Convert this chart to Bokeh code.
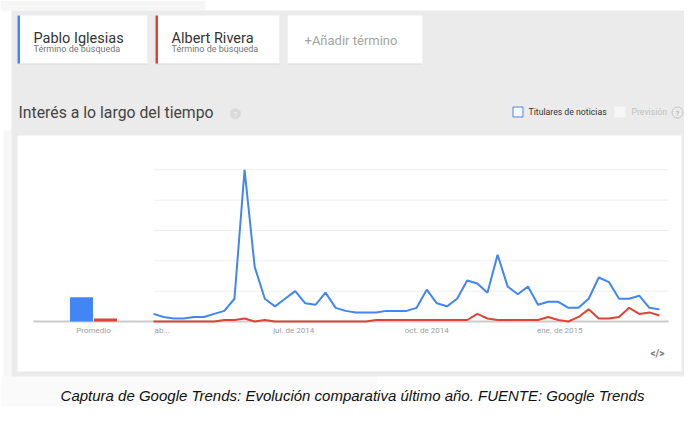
import numpy as np
import pandas as pd
from bokeh.plotting import figure
from bokeh.models import Range1d
from bokeh.core.properties import value
from bokeh.embed import file_html
from bokeh.resources import INLINE

# ---------------- data ----------------
weeks = pd.date_range("2014-03-26", periods=51, freq="7D")
pablo = [5, 3, 2, 2, 3, 3, 5, 7, 15, 100,
         36, 15, 10, 15, 20, 12, 11, 19, 9, 7,
         6, 6, 6, 7, 7, 7, 9, 21, 12, 10,
         15, 27, 25, 19, 44, 23, 18, 23, 11, 13,
         13, 9, 9, 15, 29, 26, 15, 15, 17, 9, 8]
albert = [0, 0, 0, 0, 0, 0, 0, 1, 1, 2,
          0, 1, 0, 0, 0, 0, 0, 0, 0, 0,
          0, 0, 1, 1, 1, 1, 1, 1, 1, 1,
          1, 1, 5, 2, 1, 1, 1, 1, 1, 3,
          1, 0, 3, 8, 2, 2, 3, 9, 5, 6, 4]
terms = ["Pablo Iglesias", "Albert Rivera"]
averages = [16, 2]
tick_dates = ["2014-04-01", "2014-07-01", "2014-10-01", "2015-01-01"]
tick_labels = ["ab...", "jul. de 2014", "oct. de 2014", "ene. de 2015"]
grid_values = [20, 40, 60, 80, 100]

# ---------------- layout ----------------
W, H = 684, 406
BLUE, RED = "#4285f4", "#db4437"
FONT = value("Roboto")

def ms(d):
    return np.array(pd.to_datetime(d), dtype="datetime64[ms]").astype("int64").astype(float)

week_ms = ms(weeks)
MS_PER_PX = 7 * 86400000 / 10.12
t_start = week_ms[0] - 153 * MS_PER_PX
PX_PER_UNIT = 1.517
ZERO_Y = 321
v_bottom = (ZERO_Y - H) / PX_PER_UNIT
v_top = ZERO_Y / PX_PER_UNIT
AVG_PX = 24.0
a_start = -81 / AVG_PX

p = figure(width=W, height=H, x_range=Range1d(0, W), y_range=Range1d(H, 0),
           output_backend="svg", toolbar_location=None, min_border=0,
           x_axis_type=None, y_axis_type=None)
p.outline_line_color = None
p.background_fill_color = "white"
p.border_fill_color = "white"
p.extra_x_ranges = {"time": Range1d(t_start, t_start + W * MS_PER_PX),
                    "avg": Range1d(a_start, a_start + W / AVG_PX)}
p.extra_y_ranges = {"val": Range1d(v_bottom, v_top)}

# background panels
p.quad(left=[0], right=[205], top=[0], bottom=[10], fill_color="#f6f6f6", line_color=None)
p.quad(left=[0], right=[377], top=[376], bottom=[406], fill_color="#fafafa", line_color=None)
p.quad(left=[3], right=[11], top=[130], bottom=[376], fill_color="#f7f7f7", line_color=None)
p.quad(left=[11], right=[684], top=[10], bottom=[376], fill_color="#ebebeb", line_color=None)

# term cards (shadow, card, colored border)
card_l = [17, 155, 287]
card_r = [147, 279, 422]
p.quad(left=card_l, right=card_r, top=[16] * 3, bottom=[64] * 3, fill_color="#d9d9d9", line_color=None)
p.quad(left=card_l, right=card_r, top=[15] * 3, bottom=[63] * 3, fill_color="white", line_color=None)
p.quad(left=[17, 155], right=[19.5, 157.5], top=[15, 15], bottom=[63, 63],
       fill_color=[BLUE, RED], line_color=None)
p.text(x=[33, 171], y=[37.5, 37.5], text=terms, text_font=FONT, text_font_size="14.5px",
       text_color="#333333", text_baseline="alphabetic")
p.text(x=[33, 171], y=[48.5, 48.5], text=["Término de búsqueda"] * 2, text_font=FONT,
       text_font_size="9px", text_color="#757575", text_baseline="middle")
p.text(x=[304], y=[40], text=["+Añadir término"], text_font=FONT, text_font_size="13px",
       text_color="#a3a3a3", text_baseline="middle")

# section title
p.text(x=[18], y=[112], text=["Interés a lo largo del tiempo"], text_font=FONT,
       text_font_size="15.8px", text_color="#444444", text_baseline="middle")
p.scatter(x=[235], y=[113], size=11, fill_color="#dadada", line_color=None)
p.text(x=[235], y=[113.5], text=["?"], text_font=FONT, text_font_size="8px",
       text_color="#f4f4f4", text_align="center", text_baseline="middle")

# check boxes
p.quad(left=[512.5], right=[522.5], top=[106.5], bottom=[116.5], fill_color="#f8fbff",
       line_color=BLUE, line_width=1)
p.text(x=[528], y=[111.5], text=["Titulares de noticias"], text_font=FONT,
       text_font_size="8.7px", text_color="#333333", text_baseline="middle")
p.quad(left=[614], right=[625], top=[106], bottom=[117], fill_color="#f6f6f6", line_color=None)
p.text(x=[631], y=[111.5], text=["Previsión"], text_font=FONT, text_font_size="8.7px",
       text_color="#c2c2c2", text_baseline="middle")
p.scatter(x=[677], y=[112], size=11, fill_color=None, line_color="#c2c2c2", line_width=1)
p.text(x=[677], y=[112.5], text=["?"], text_font=FONT, text_font_size="8px",
       text_color="#aaaaaa", text_align="center", text_baseline="middle")

# chart card
p.quad(left=[17], right=[681], top=[135], bottom=[371], fill_color="white", line_color=None)

# grid lines and baseline
p.segment(x0=[153] * len(grid_values), x1=[668] * len(grid_values), y0=grid_values,
          y1=grid_values, y_range_name="val", line_color="#eeeeee", line_width=1)
p.segment(x0=[33], x1=[668], y0=[0], y1=[0], y_range_name="val",
          line_color="#cccccc", line_width=2)

# average bars
p.vbar(x=[0, 1], top=averages, bottom=0, width=0.96, x_range_name="avg", y_range_name="val",
       fill_color=[BLUE, RED], line_color=None)
p.text(x=[0.5], y=[330], text=["Promedio"], x_range_name="avg", text_font=FONT,
       text_font_size="8px", text_color="#9e9e9e", text_align="center", text_baseline="middle")

# time series
p.line(x=week_ms, y=albert, x_range_name="time", y_range_name="val", line_color=RED,
       line_width=2)
p.line(x=week_ms, y=pablo, x_range_name="time", y_range_name="val", line_color=BLUE,
       line_width=2)

# x tick labels
p.text(x=ms(tick_dates), y=[330] * len(tick_labels), text=tick_labels, x_range_name="time",
       text_font=FONT, text_font_size="8px", text_color="#9e9e9e", text_align="center",
       text_baseline="middle")

# embed icon
p.text(x=[657], y=[353], text=["</>"], text_font=FONT, text_font_size="10px",
       text_font_style="bold", text_color="#777777", text_align="center",
       text_baseline="middle")

# caption
p.text(x=[352], y=[395], text=["Captura de Google Trends: Evolución comparativa último año. FUENTE: Google Trends"],
       text_font=value("Liberation Sans"), text_font_size="15px", text_font_style="italic",
       text_color="#111111", text_align="center", text_baseline="middle")

open("out.html", "w").write(file_html(p, INLINE))
